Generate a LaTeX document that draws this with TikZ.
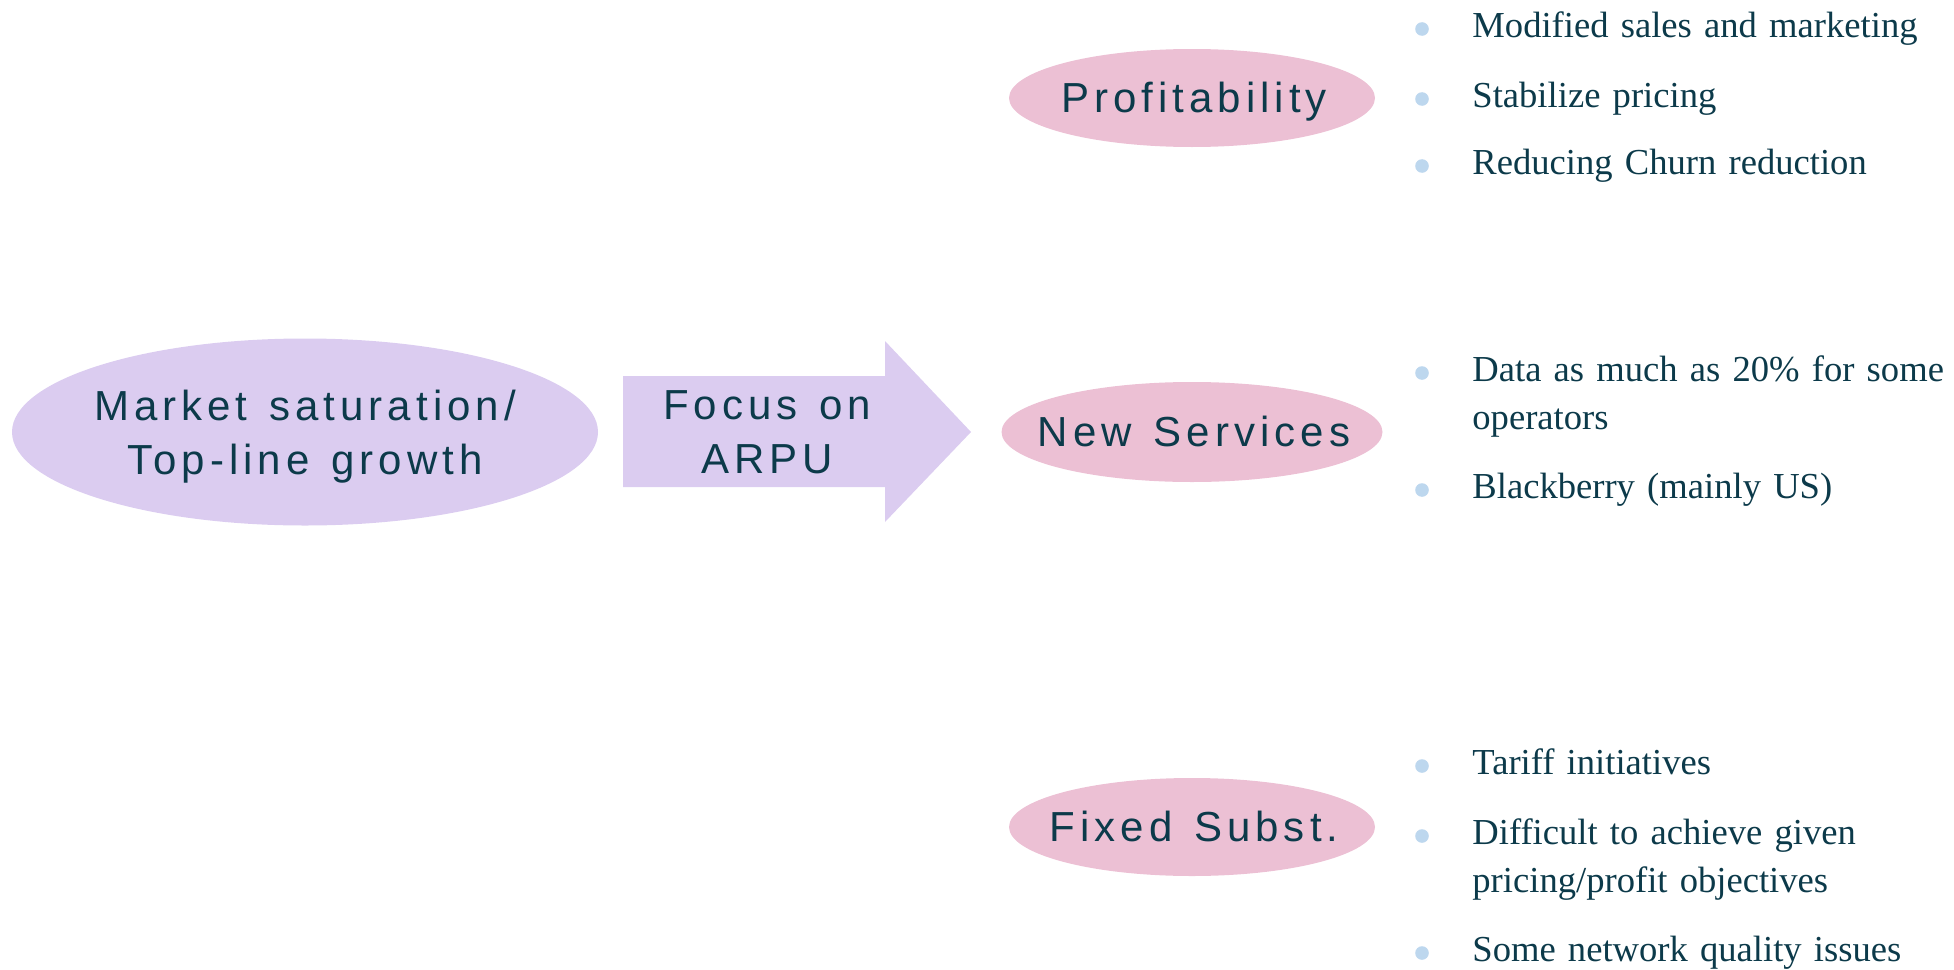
\documentclass[tikz,border=0pt]{standalone}
\usepackage{fontspec}
\setmainfont{Liberation Serif}
\newfontfamily\headfont[LetterSpace=12,WordSpace=1.3]{Liberation Sans}
\usetikzlibrary{positioning}

\definecolor{lilac}{RGB}{219,204,240}
\definecolor{rose}{RGB}{236,192,212}
\definecolor{dotblue}{RGB}{189,215,238}
\definecolor{ink}{RGB}{12,58,74}

\begin{document}
\begin{tikzpicture}[x=0.5pt,y=-0.5pt,
  head/.style={text=ink,font=\headfont\fontsize{21}{27}\selectfont,align=center,inner sep=0pt},
  item/.style={text=ink,font=\fontsize{18.3}{24}\selectfont,anchor=base west,text width=250pt,align=left,inner sep=0pt}]
\useasboundingbox (0,0) rectangle (1954,969);

% left bubble and the arrow
\fill[lilac] (305,432) ellipse [x radius=146.5pt,y radius=46.75pt];
\node[head] (market) at (305,437) {Market saturation/\\Top-line growth};
\fill[lilac] (623,376) -- (885,376) -- (885,341) -- (971,432) -- (885,522) -- (885,487) -- (623,487) -- cycle;
\node[head] (arpu) at (767,432) {Focus on\\ARPU};

% the three pink bubbles
\foreach\n/\y/\rx/\ry/\txt in {profit/98/91.5/24.5/Profitability,services/432/95.25/25/New Services,fixed/827/91.5/24.5/Fixed Subst.}
{
\fill[rose] (1192,\y) ellipse [x radius=\rx pt,y radius=\ry pt];
\node[head,anchor=base] (\n) at (1194,\y+14) {\txt};
}

% bullet points
\foreach\n/\y/\txt in {profitA/37/Modified sales and marketing,profitB/107/Stabilize pricing,profitC/174/Reducing Churn reduction,servicesA/381/{Data as much as 20\% for some\\operators},servicesB/498/Blackberry (mainly US),fixedA/774/Tariff initiatives,fixedB/844/{Difficult to achieve given\\pricing/profit objectives},fixedC/961/Some network quality issues}
{
\fill[dotblue] (1422,\y-8) circle (3.4pt);
\node[item] (\n) at (1472,\y) {\txt};
}
\end{tikzpicture}
\end{document}
